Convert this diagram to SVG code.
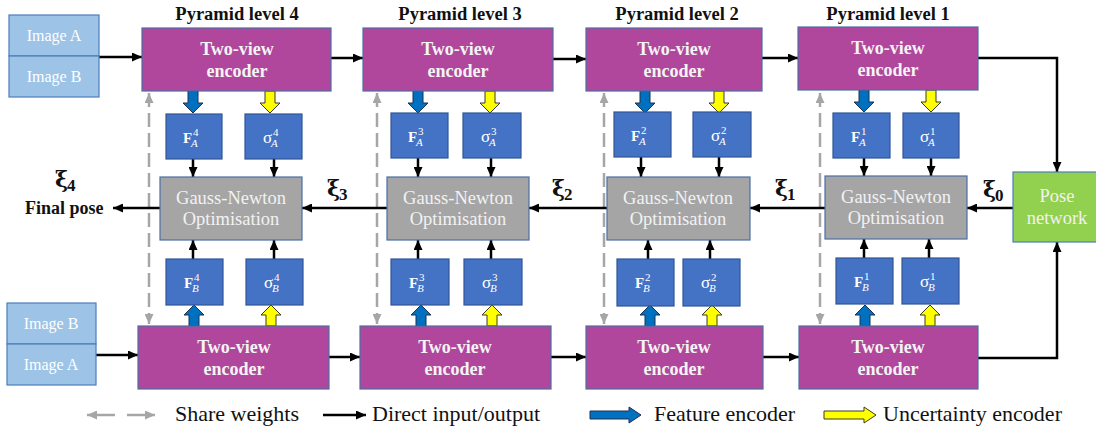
<svg xmlns="http://www.w3.org/2000/svg" width="1096" height="435" viewBox="0 0 1096 435" font-family="'Liberation Serif', serif">
<style>
.img{fill:#9dc3e6;stroke:#4a7ebb;stroke-width:1.2}
.imgt{font-family:'Liberation Serif',serif;font-size:16px;fill:#ffffff;text-anchor:middle}
.enc{fill:#b0479c;stroke:#4a6fa5;stroke-width:1.2}
.enct{font-family:'Liberation Serif',serif;font-size:18px;font-weight:bold;fill:#f4f4f4;text-anchor:middle}
.fbox{fill:#4472c4;stroke:#2f5597;stroke-width:1.2}
.gn{fill:#a5a5a5;stroke:#4a6fa5;stroke-width:1.2}
.gnt{font-family:'Liberation Serif',serif;font-size:18.5px;fill:#f2f2f2;text-anchor:middle}
.pose{fill:#92d050;stroke:#4a7ebb;stroke-width:1.2}
.lvl{font-family:'Liberation Serif',serif;font-size:18.5px;font-weight:bold;fill:#111;text-anchor:middle}
.F{font-family:'Liberation Serif',serif;font-size:15px;font-weight:bold;fill:#fff}
.sg{font-family:'Liberation Serif',serif;font-size:17px;fill:#fff}
.sup{font-family:'Liberation Serif',serif;font-size:11px;fill:#fff}
.sub{font-family:'Liberation Serif',serif;font-size:11px;font-style:italic;fill:#fff}
.xi{font-family:'DejaVu Serif',serif;font-size:22px;font-weight:bold;fill:#111}
.xis{font-family:'Liberation Serif',serif;font-size:17px;font-weight:bold;fill:#111}
.fp{font-family:'Liberation Serif',serif;font-size:18px;font-weight:bold;fill:#111}
.leg{font-family:'Liberation Serif',serif;font-size:22px;fill:#111}
.con{fill:none;stroke:#000;stroke-width:2.5;marker-end:url(#ah)}
.share{fill:none;stroke:#a6a6a6;stroke-width:2.5;stroke-dasharray:14 6;marker-end:url(#gh);marker-start:url(#gh)}
.blue{fill:#0070c0;stroke:#1f3050;stroke-width:1}
.yel{fill:#ffff00;stroke:#3a3a20;stroke-width:1}
</style>
<defs>
<marker id="ah" markerUnits="userSpaceOnUse" markerWidth="10" markerHeight="9" refX="10" refY="4.5" orient="auto"><path d="M0,0 L10,4.5 L0,9 Z" fill="#000"/></marker>
<marker id="gh" markerUnits="userSpaceOnUse" markerWidth="10" markerHeight="9" refX="10" refY="4.5" orient="auto-start-reverse"><path d="M0,0 L10,4.5 L0,9 Z" fill="#a6a6a6"/></marker>
<path id="bdown" d="M-5,0 H5 V12 H10 L0,22 L-10,12 H-5 Z"/>
<path id="bup" d="M-5,0 H5 V-11 H10 L0,-21 L-10,-11 H-5 Z"/>
</defs>

<g id="level-labels">
<text class="lvl" x="237" y="20">Pyramid level 4</text>
<text class="lvl" x="460" y="20">Pyramid level 3</text>
<text class="lvl" x="677" y="20">Pyramid level 2</text>
<text class="lvl" x="888" y="20">Pyramid level 1</text>
</g>

<g id="connectors">
<path class="share" d="M149,93 V324"/>
<path class="share" d="M377,93 V324"/>
<path class="share" d="M604,93 V324"/>
<path class="share" d="M820,93 V324"/>
<path class="con" d="M99,57 H142"/>
<path class="con" d="M331,58 H363"/>
<path class="con" d="M553,59 H586"/>
<path class="con" d="M762,58 H798"/>
<path class="con" d="M978,58 H1057 V172"/>
<path class="con" d="M96,355 H138"/>
<path class="con" d="M329,357 H360"/>
<path class="con" d="M551,357 H586"/>
<path class="con" d="M763,357 H799"/>
<path class="con" d="M978,358 H1057 V242"/>
<path class="con" d="M1013,208 H967"/>
<path class="con" d="M825,208 H750"/>
<path class="con" d="M607,208 H529"/>
<path class="con" d="M387,208 H302"/>
<path class="con" d="M160,208 H113"/>
<path class="con" d="M193,159 V177"/>
<path class="con" d="M274,159 V177"/>
<path class="con" d="M418,158 V177"/>
<path class="con" d="M491,158 V177"/>
<path class="con" d="M641,157 V177"/>
<path class="con" d="M719,157 V177"/>
<path class="con" d="M864,158 V176"/>
<path class="con" d="M931,158 V176"/>
<path class="con" d="M193,259 V240"/>
<path class="con" d="M274,259 V240"/>
<path class="con" d="M418,259 V240"/>
<path class="con" d="M491,259 V240"/>
<path class="con" d="M648,259 V240"/>
<path class="con" d="M710,259 V240"/>
<path class="con" d="M864,258 V239"/>
<path class="con" d="M929,258 V239"/>
<use href="#bdown" x="193" y="91" class="blue"/>
<use href="#bdown" x="270" y="91" class="yel"/>
<use href="#bdown" x="418" y="91" class="blue"/>
<use href="#bdown" x="490" y="91" class="yel"/>
<use href="#bdown" x="645" y="91" class="blue"/>
<use href="#bdown" x="719" y="91" class="yel"/>
<use href="#bdown" x="864" y="90" class="blue"/>
<use href="#bdown" x="931" y="90" class="yel"/>
<use href="#bup" x="194" y="326" class="blue"/>
<use href="#bup" x="271" y="326" class="yel"/>
<use href="#bup" x="421" y="326" class="blue"/>
<use href="#bup" x="492" y="326" class="yel"/>
<use href="#bup" x="650" y="326" class="blue"/>
<use href="#bup" x="712" y="326" class="yel"/>
<use href="#bup" x="865" y="326" class="blue"/>
<use href="#bup" x="930" y="326" class="yel"/>
</g>

<g id="img-top">
<rect class="img" x="9" y="15" width="90" height="41"/>
<rect class="img" x="9" y="56" width="90" height="41"/>
<text class="imgt" x="54" y="41">Image A</text>
<text class="imgt" x="54" y="82">Image B</text>
</g>
<g id="img-bottom">
<rect class="img" x="7" y="303" width="89" height="41"/>
<rect class="img" x="7" y="344" width="89" height="41"/>
<text class="imgt" x="51" y="329">Image B</text>
<text class="imgt" x="51" y="370">Image A</text>
</g>

<g id="enc-top-4"><rect class="enc" x="142" y="28" width="189" height="63"/><text class="enct" x="237" y="55">Two-view</text><text class="enct" x="237" y="77">encoder</text></g>
<g id="enc-top-3"><rect class="enc" x="363" y="28" width="190" height="63"/><text class="enct" x="458" y="55">Two-view</text><text class="enct" x="458" y="77">encoder</text></g>
<g id="enc-top-2"><rect class="enc" x="586" y="28" width="176" height="63"/><text class="enct" x="674" y="55">Two-view</text><text class="enct" x="674" y="77">encoder</text></g>
<g id="enc-top-1"><rect class="enc" x="798" y="27" width="180" height="63"/><text class="enct" x="888" y="54">Two-view</text><text class="enct" x="888" y="76">encoder</text></g>

<g id="enc-bot-4"><rect class="enc" x="138" y="326" width="191" height="63"/><text class="enct" x="234" y="353">Two-view</text><text class="enct" x="234" y="375">encoder</text></g>
<g id="enc-bot-3"><rect class="enc" x="360" y="326" width="191" height="63"/><text class="enct" x="455" y="353">Two-view</text><text class="enct" x="455" y="375">encoder</text></g>
<g id="enc-bot-2"><rect class="enc" x="586" y="326" width="177" height="63"/><text class="enct" x="674" y="353">Two-view</text><text class="enct" x="674" y="375">encoder</text></g>
<g id="enc-bot-1"><rect class="enc" x="799" y="326" width="179" height="63"/><text class="enct" x="888" y="353">Two-view</text><text class="enct" x="888" y="375">encoder</text></g>

<g id="fa-4"><rect class="fbox" x="166" y="114" width="56" height="45"/><text class="F" x="183" y="143">F</text><text class="sup" x="193" y="136">4</text><text class="sub" x="191" y="147">A</text></g>
<g id="sa-4"><rect class="fbox" x="245" y="114" width="57" height="45"/><text class="sg" x="263" y="143">σ</text><text class="sup" x="273" y="136">4</text><text class="sub" x="271" y="147">A</text></g>
<g id="fa-3"><rect class="fbox" x="391" y="113" width="57" height="45"/><text class="F" x="408" y="142">F</text><text class="sup" x="418" y="135">3</text><text class="sub" x="416" y="146">A</text></g>
<g id="sa-3"><rect class="fbox" x="463" y="113" width="58" height="45"/><text class="sg" x="481" y="142">σ</text><text class="sup" x="491" y="135">3</text><text class="sub" x="489" y="146">A</text></g>
<g id="fa-2"><rect class="fbox" x="614" y="112" width="57" height="45"/><text class="F" x="631" y="141">F</text><text class="sup" x="641" y="134">2</text><text class="sub" x="639" y="145">A</text></g>
<g id="sa-2"><rect class="fbox" x="693" y="112" width="58" height="45"/><text class="sg" x="711" y="141">σ</text><text class="sup" x="721" y="134">2</text><text class="sub" x="719" y="145">A</text></g>
<g id="fa-1"><rect class="fbox" x="833" y="113" width="57" height="45"/><text class="F" x="851" y="142">F</text><text class="sup" x="861" y="135">1</text><text class="sub" x="859" y="146">A</text></g>
<g id="sa-1"><rect class="fbox" x="903" y="113" width="56" height="45"/><text class="sg" x="920" y="142">σ</text><text class="sup" x="930" y="135">1</text><text class="sub" x="928" y="146">A</text></g>

<g id="fb-4"><rect class="fbox" x="166" y="259" width="57" height="46"/><text class="F" x="184" y="288">F</text><text class="sup" x="194" y="281">4</text><text class="sub" x="192" y="292">B</text></g>
<g id="sb-4"><rect class="fbox" x="246" y="259" width="57" height="46"/><text class="sg" x="264" y="288">σ</text><text class="sup" x="274" y="281">4</text><text class="sub" x="272" y="292">B</text></g>
<g id="fb-3"><rect class="fbox" x="391" y="259" width="58" height="46"/><text class="F" x="409" y="288">F</text><text class="sup" x="419" y="281">3</text><text class="sub" x="417" y="292">B</text></g>
<g id="sb-3"><rect class="fbox" x="464" y="259" width="58" height="46"/><text class="sg" x="482" y="288">σ</text><text class="sup" x="492" y="281">3</text><text class="sub" x="490" y="292">B</text></g>
<g id="fb-2"><rect class="fbox" x="617" y="259" width="57" height="47"/><text class="F" x="635" y="288">F</text><text class="sup" x="645" y="281">2</text><text class="sub" x="643" y="292">B</text></g>
<g id="sb-2"><rect class="fbox" x="683" y="259" width="57" height="47"/><text class="sg" x="701" y="288">σ</text><text class="sup" x="711" y="281">2</text><text class="sub" x="709" y="292">B</text></g>
<g id="fb-1"><rect class="fbox" x="836" y="258" width="57" height="46"/><text class="F" x="854" y="287">F</text><text class="sup" x="864" y="280">1</text><text class="sub" x="862" y="291">B</text></g>
<g id="sb-1"><rect class="fbox" x="902" y="258" width="57" height="46"/><text class="sg" x="920" y="287">σ</text><text class="sup" x="930" y="280">1</text><text class="sub" x="928" y="291">B</text></g>

<g id="gn-4"><rect class="gn" x="160" y="177" width="142" height="63"/><text class="gnt" x="231" y="204">Gauss-Newton</text><text class="gnt" x="231" y="225">Optimisation</text></g>
<g id="gn-3"><rect class="gn" x="387" y="177" width="142" height="63"/><text class="gnt" x="458" y="204">Gauss-Newton</text><text class="gnt" x="458" y="225">Optimisation</text></g>
<g id="gn-2"><rect class="gn" x="607" y="177" width="143" height="63"/><text class="gnt" x="678" y="204">Gauss-Newton</text><text class="gnt" x="678" y="225">Optimisation</text></g>
<g id="gn-1"><rect class="gn" x="825" y="176" width="142" height="63"/><text class="gnt" x="896" y="203">Gauss-Newton</text><text class="gnt" x="896" y="224">Optimisation</text></g>

<g id="pose"><rect class="pose" x="1013" y="172" width="88" height="70"/><text class="gnt" x="1057" y="202">Pose</text><text class="gnt" x="1057" y="224">network</text></g>

<g id="xi-labels">
<text class="xi" x="55" y="187">ξ</text><text class="xis" x="67" y="191">4</text>
<text class="fp" x="25" y="214">Final pose</text>
<text class="xi" x="327" y="196">ξ</text><text class="xis" x="339" y="200">3</text>
<text class="xi" x="552" y="196">ξ</text><text class="xis" x="564" y="200">2</text>
<text class="xi" x="775" y="196">ξ</text><text class="xis" x="787" y="200">1</text>
<text class="xi" x="983" y="197">ξ</text><text class="xis" x="995" y="201">0</text>
</g>

<g id="legend">
<path d="M115,415 H87" fill="none" stroke="#a6a6a6" stroke-width="2.5" marker-end="url(#gh)"/>
<path d="M127,415 H155" fill="none" stroke="#a6a6a6" stroke-width="2.5" marker-end="url(#gh)"/>
<text class="leg" x="175" y="421">Share weights</text>
<path d="M323,415 H366" class="con"/>
<text class="leg" x="372" y="421">Direct input/output</text>
<path d="M590,411 H629 V407 L641,415 L629,423 V419 H590 Z" class="blue"/>
<text class="leg" x="654" y="421">Feature encoder</text>
<path d="M824,411 H864 V407 L876,415 L864,423 V419 H824 Z" class="yel"/>
<text class="leg" x="883" y="421">Uncertainty encoder</text>
</g>
</svg>
